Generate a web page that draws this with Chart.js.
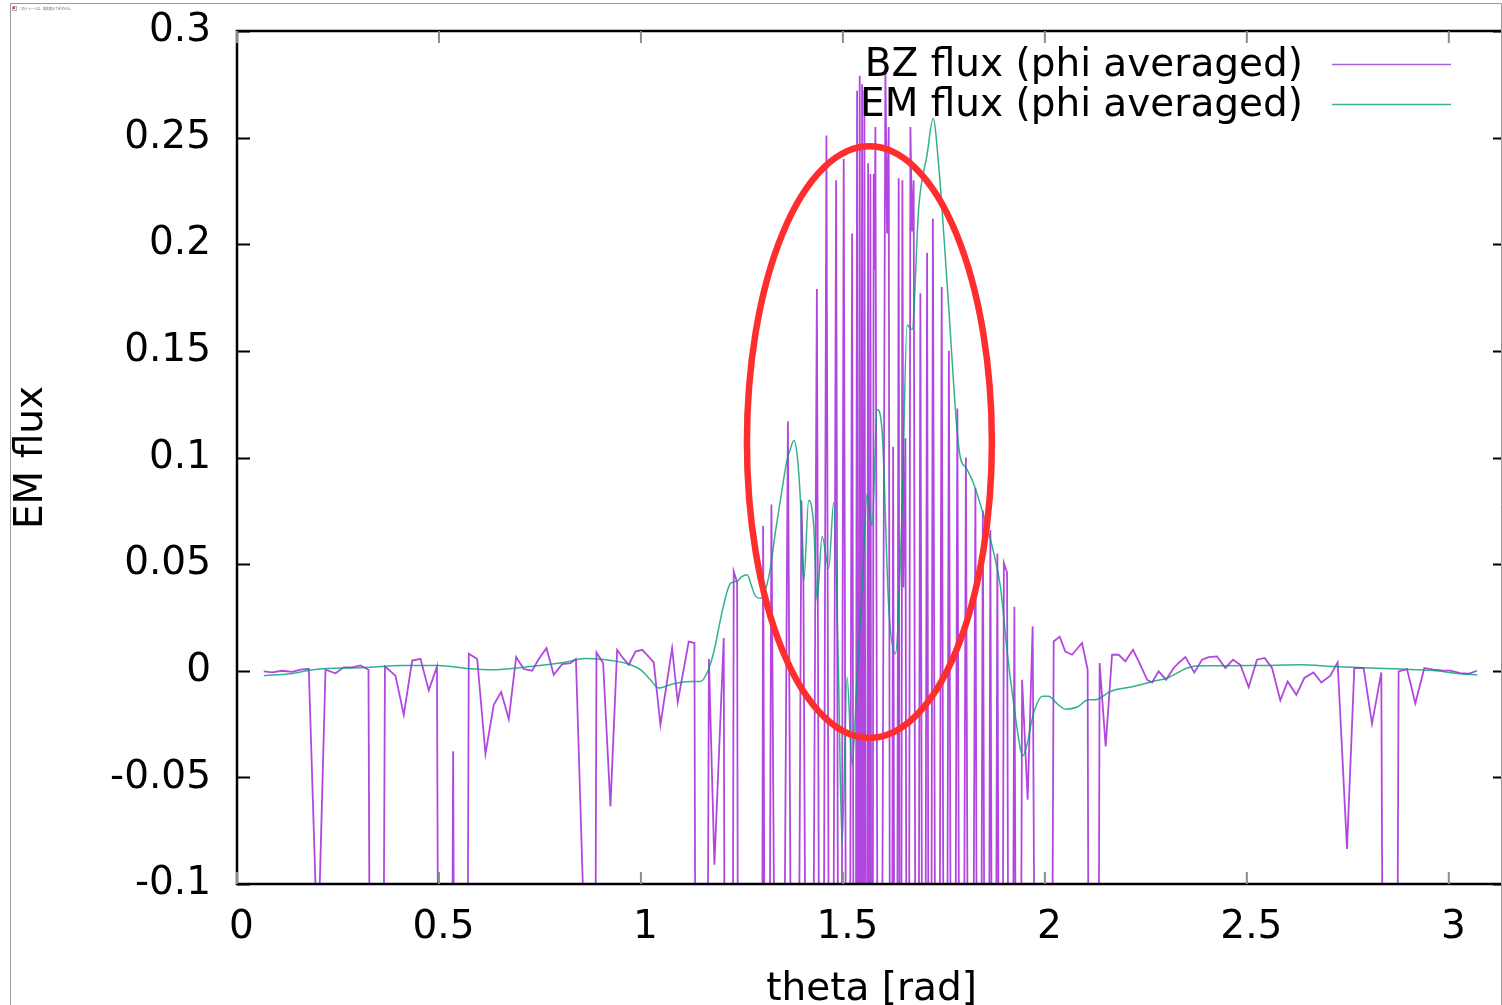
<!DOCTYPE html>
<html>
<head>
<meta charset="utf-8">
<script src="https://cdn.jsdelivr.net/npm/chart.js@4.4.1/dist/chart.umd.min.js"></script>
<style>
  html, body { margin: 0; padding: 0; background: #fff; overflow: hidden; }
  #box { position: absolute; left: 0; top: 0; }
</style>
</head>
<body>
<div id="box"><canvas id="c" width="1520" height="1005" style="width:1520px;height:1005px"></canvas></div>
<script>
// ---- data ----
// BZ flux (phi averaged): theta [rad] and value
var bzTheta = [
  0.0663, 0.0871, 0.1119, 0.1366, 0.1572, 0.1777, 0.2000, 0.2191, 0.2438, 0.2644,
  0.2851, 0.3057, 0.3255, 0.3441, 0.3663, 0.3923, 0.4129, 0.4337, 0.4542, 0.4748,
  0.4950, 0.5149, 0.5351, 0.5545, 0.5738, 0.5946, 0.6151, 0.6356, 0.6540, 0.6728,
  0.6911, 0.7099, 0.7307, 0.7470, 0.7661, 0.7842, 0.8050, 0.8255, 0.8391, 0.8577,
  0.8725, 0.8899, 0.9064, 0.9245, 0.9411, 0.9554, 0.9698, 0.9864, 1.0030, 1.0173,
  1.0317, 1.0483, 1.0772, 1.0911, 1.1183, 1.1324, 1.1473, 1.1683, 1.1819, 1.2050,
  1.2178, 1.2297, 1.2381, 1.2488,
  1.2958, 1.3025, 1.3119, 1.3230, 1.3428, 1.3639, 1.3812, 1.3973, 1.4022, 1.4171,
  1.4356, 1.4468, 1.4592, 1.4703, 1.4832, 1.4926, 1.5020, 1.5124, 1.5228, 1.5297,
  1.5351, 1.5384, 1.5416, 1.5446, 1.5475, 1.5507, 1.5532, 1.5582, 1.5624, 1.5656,
  1.5681, 1.5718, 1.5762, 1.5785, 1.5804, 1.5903, 1.6052, 1.6094, 1.6134, 1.6188,
  1.6243, 1.6312, 1.6381, 1.6423, 1.6473, 1.6498, 1.6547, 1.6609, 1.6671, 1.6713,
  1.6752, 1.6832, 1.6918, 1.7005, 1.7084, 1.7153, 1.7228, 1.7339, 1.7446, 1.7537,
  1.7624, 1.7723, 1.7834, 1.7933, 1.8045, 1.8156, 1.8280, 1.8366, 1.8465, 1.8564,
  1.8651, 1.8738, 1.8824, 1.8911, 1.8985, 1.9064, 1.9146, 1.9245, 1.9344, 1.9436,
  1.9574, 1.9698, 1.9988,
  2.0218, 2.0366, 2.0507, 2.0673, 2.0921, 2.1059, 2.1200, 2.1356, 2.1505, 2.1663,
  2.1827, 2.1993, 2.2183, 2.2364, 2.2530, 2.2653, 2.2817, 2.3000, 2.3188, 2.3329,
  2.3478, 2.3700, 2.3891, 2.4054, 2.4262, 2.4468, 2.4658, 2.4839, 2.5045, 2.5252,
  2.5441, 2.5624, 2.5829, 2.6010, 2.6225, 2.6423, 2.6653, 2.6844, 2.7067, 2.7248,
  2.7480, 2.7661, 2.7891, 2.8099, 2.8329, 2.8552, 2.8757, 2.8965, 2.9171, 2.9394,
  2.9624, 2.9827, 3.0037, 3.0285, 3.0490, 3.0698
];
var bzFlux = [
  -0.0003, -0.0008, 0.0000, -0.0005, 0.0005, 0.0009, -0.135, 0.0005, -0.0012, 0.0016,
  0.0016, 0.0025, 0.0005, -0.9, 0.0020, -0.0023, -0.0206, 0.0048, 0.0056, -0.0092,
  0.0020, -1.0, -0.0378, -1.0, 0.0080, 0.0055, -0.0390, -0.0160, -0.0100, -0.0227,
  0.0064, 0.0008, 0.0000, 0.0055, 0.0106, -0.0019, 0.0031, 0.0036, 0.0055, -0.11,
  -1.0, 0.0086, 0.0036, -0.0636, 0.0098, 0.0060, 0.0028, 0.0090, 0.0098, 0.0070,
  0.0039, -0.0253, 0.0106, -0.0147, 0.0137, 0.0130, -1.0, 0.0055, -0.0910, 0.0153,
  -1.0, 0.0466, 0.0414, -1.0,
  -0.6, 0.068, -0.5, 0.078, -0.5, 0.117, -0.5, 0.080, 0.042, -0.5,
  0.179, -0.5, 0.251, -0.5, 0.230, -0.5, 0.240, -0.5, 0.205, -0.5,
  0.272, -0.5, 0.279, -0.5, 0.275, -0.5, 0.272, -0.5, 0.238, -0.5,
  0.233, -0.5, 0.233, 0.188, 0.255, -0.5, 0.282, 0.205, 0.255, -0.5,
  0.105, -0.5, 0.231, -0.5, 0.230, 0.039, 0.109, -0.5, 0.255, 0.206,
  0.230, -0.5, 0.177, -0.5, 0.196, -0.5, 0.212, -0.5, 0.180, -0.5,
  0.150, -0.5, 0.123, -0.5, 0.100, -0.5, 0.0857, -0.5, 0.075, -0.5,
  0.066, -0.5, 0.055, -0.5, 0.0505, 0.046, -0.5, 0.030, -0.5, -0.0042,
  -0.0605, 0.0208, -1.0,
  0.0137, 0.0160, 0.0090, 0.0075, 0.0130, 0.0005, -1.0, 0.0036, -0.0355, 0.0075,
  0.0075, 0.0044, 0.0098, 0.0028, -0.0042, -0.0055, -0.0003, -0.0042, 0.0013, 0.0040,
  0.0064, -0.0008, 0.0052, 0.0064, 0.0067, 0.0013, 0.0052, 0.0028, -0.0077, 0.0052,
  0.0060, 0.0013, -0.0139, -0.0050, -0.0113, -0.0034, -0.0008, -0.0055, -0.0023, 0.0039,
  -0.0836, 0.0013, 0.0013, -0.0249, -0.0008, -1.0, -0.0003, 0.0008, -0.0152, 0.0013,
  0.0005, 0.0002, 0.0001, -0.0011, -0.0014, 0.0000
];

// EM flux (phi averaged)
var emTheta = [
  0.0663, 0.1324, 0.1894, 0.3131, 0.4121, 0.4963, 0.5780, 0.6275, 0.7265, 0.8082,
  0.8626, 0.9418, 0.9740, 0.9988, 1.0235, 1.0433, 1.0804, 1.1225, 1.1473, 1.1671,
  1.1819, 1.1968, 1.2116, 1.2215, 1.2381, 1.2488, 1.2629, 1.2735, 1.2834, 1.2958,
  1.3057, 1.3205, 1.3329, 1.3453, 1.3619, 1.3700, 1.3782, 1.3874, 1.3948, 1.4030,
  1.4153, 1.4277, 1.4361, 1.4485, 1.4649, 1.4772, 1.4889, 1.4980, 1.5104, 1.5228,
  1.5359, 1.5475, 1.5599, 1.5723, 1.5847, 1.5970, 1.6134, 1.6300, 1.6465, 1.6589,
  1.6713, 1.6876, 1.7084, 1.7233, 1.7371, 1.7579, 1.7827, 1.7908, 1.8057, 1.8238,
  1.8485, 1.8733, 1.8899, 1.9072, 1.9245, 1.9394, 1.9450, 1.9567, 1.9691, 1.9814,
  1.9938, 2.0087, 2.0334, 2.0507, 2.0804, 2.1077, 2.1250, 2.1621, 2.2191, 2.2686,
  2.3032, 2.3527, 2.3849, 2.5507, 2.6324, 2.7141, 2.8800, 2.9616, 3.0285, 3.0705
];
var emFlux = [
  -0.0023, -0.0014, 0.0005, 0.0015, 0.0025, 0.0025, 0.0009, 0.0005, 0.0020, 0.0039,
  0.0058, 0.0044, 0.0028, 0.0005, -0.0042, -0.0081, -0.0061, -0.0050, -0.0050, 0.0005,
  0.0100, 0.0240, 0.0360, 0.0410, 0.0420, 0.0440, 0.0450, 0.0400, 0.0350, 0.0340,
  0.0365, 0.0480, 0.0650, 0.0800, 0.0990, 0.1040, 0.1080, 0.1000, 0.0800, 0.0420,
  0.0800, 0.0680, 0.0330, 0.0630, 0.0480, 0.0790, 0.0000, -0.0810, -0.0030, -0.0440,
  0.0000, 0.0380, 0.0830, 0.0680, 0.1225, 0.1125, 0.0300, 0.0080, 0.0750, 0.1620,
  0.1600, 0.2170, 0.2420, 0.2590, 0.2370, 0.1820, 0.1125, 0.1000, 0.0950, 0.0877,
  0.0728, 0.0554, 0.0395, 0.0080, -0.0180, -0.0366, -0.0400, -0.0340, -0.0220, -0.0150,
  -0.0120, -0.0120, -0.0160, -0.0180, -0.0170, -0.0136, -0.0136, -0.0097, -0.0074, -0.0050,
  -0.0034, 0.0013, 0.0023, 0.0025, 0.0028, 0.0020, 0.0008, 0.0001, -0.0014, -0.0019
];

var seriesNames = ['BZ flux (phi averaged)', 'EM flux (phi averaged)'];
var xTicks = [0, 0.5, 1, 1.5, 2, 2.5, 3];
var xTickLabels = ['0', '0.5', '1', '1.5', '2', '2.5', '3'];
var yTicks = [-0.1, -0.05, 0, 0.05, 0.1, 0.15, 0.2, 0.25, 0.3];
var yTickLabels = ['-0.1', '-0.05', '0', '0.05', '0.1', '0.15', '0.2', '0.25', '0.3'];
var xMax = 3.1416;

// red ring drawn on the picture (centre and half axes, in data units)
var ringCenter = [1.5656, 0.1072];
var ringRadius = [0.3032, 0.1387];

var PURPLE = 'rgba(148, 0, 211, 0.72)';
var GREEN = 'rgba(0, 158, 115, 0.8)';
var KEY_PURPLE = '#a860d8';
var KEY_GREEN = '#40b090';
var FONT = 'DejaVu Sans';

Chart.defaults.font.family = FONT;
Chart.defaults.color = '#000';

// frame, mirrored ticks, key and the red ring
var decor = {
  id: 'decor',
  afterDatasetsDraw: function(chart) {
    var ctx = chart.ctx, a = chart.chartArea, xs = chart.scales.x, ys = chart.scales.y;
    ctx.save();

    // border
    ctx.strokeStyle = '#000';
    ctx.lineWidth = 2.5;
    ctx.strokeRect(a.left, a.top, a.right - a.left, a.bottom - a.top);

    // y ticks (left + right, inward)
    ctx.lineWidth = 2;
    yTicks.forEach(function(v) {
      var py = Math.round(ys.getPixelForValue(v)) + 0.5;
      ctx.beginPath();
      ctx.moveTo(a.left, py); ctx.lineTo(a.left + 13, py);
      ctx.moveTo(a.right, py); ctx.lineTo(a.right - 13, py);
      ctx.stroke();
    });
    // x ticks (bottom + top, inward)
    ctx.strokeStyle = '#8c8c8c';
    xTicks.forEach(function(v) {
      var px = xs.getPixelForValue(v);
      ctx.beginPath();
      ctx.moveTo(px, a.bottom); ctx.lineTo(px, a.bottom - 12);
      ctx.moveTo(px, a.top); ctx.lineTo(px, a.top + 12);
      ctx.stroke();
    });

    // key
    ctx.font = '39px "' + FONT + '"';
    ctx.fillStyle = '#000';
    ctx.textAlign = 'right';
    ctx.textBaseline = 'middle';
    var keyCol = [KEY_PURPLE, KEY_GREEN];
    seriesNames.forEach(function(name, i) {
      var ky = 64.5 + i * 40;
      ctx.fillText(name, 1303, ky + 1.5);
      ctx.strokeStyle = keyCol[i];
      ctx.lineWidth = 1.6;
      ctx.beginPath();
      ctx.moveTo(1332, ky); ctx.lineTo(1451, ky);
      ctx.stroke();
    });

    // red ring
    var cx = xs.getPixelForValue(ringCenter[0]);
    var cy = ys.getPixelForValue(ringCenter[1]);
    var rx = xs.getPixelForValue(ringCenter[0] + ringRadius[0]) - cx;
    var ry = cy - ys.getPixelForValue(ringCenter[1] + ringRadius[1]);
    ctx.strokeStyle = '#ff2e2e';
    ctx.lineWidth = 6.5;
    ctx.beginPath();
    ctx.ellipse(cx, cy, rx, ry, 0, 0, Math.PI * 2);
    ctx.stroke();
    ctx.restore();
  },
  afterDraw: function(chart) {
    // viewer frame around the picture
    var ctx = chart.ctx;
    ctx.save();
    ctx.strokeStyle = '#9a9a9a';
    ctx.lineWidth = 1;
    ctx.beginPath();
    ctx.moveTo(10.5, 1005); ctx.lineTo(10.5, 3.5); ctx.lineTo(1501.5, 3.5); ctx.lineTo(1501.5, 1005);
    ctx.stroke();
    ctx.fillStyle = '#fff';
    ctx.fillRect(1502, 0, 30, 1005);
    // broken-image icon + note
    ctx.strokeStyle = '#b0b0b0';
    ctx.strokeRect(12.5, 6.5, 4, 4);
    ctx.fillStyle = '#e03030';
    ctx.fillRect(13, 7, 2, 2);
    ctx.fillStyle = '#555';
    ctx.font = '3px "Noto Sans CJK JP"';
    ctx.textAlign = 'left';
    ctx.textBaseline = 'middle';
    ctx.fillText('このイメージは、現在表示できません。', 19, 8.5);
    ctx.restore();
  }
};

function xy(t, v) {
  return t.map(function(tt, i) { return {x: tt, y: v[i]}; });
}

var ctx = document.getElementById('c').getContext('2d');
var myChart = new Chart(ctx, {
  type: 'line',
  data: {
    datasets: [
      {
        label: seriesNames[0],
        data: xy(bzTheta, bzFlux),
        borderColor: PURPLE,
        borderWidth: 1.8,
        pointRadius: 0,
        tension: 0,
        order: 2
      },
      {
        label: seriesNames[1],
        data: xy(emTheta, emFlux),
        borderColor: GREEN,
        borderWidth: 1.5,
        pointRadius: 0,
        cubicInterpolationMode: 'monotone',
        order: 1
      }
    ]
  },
  options: {
    responsive: false,
    animation: false,
    events: [],
    layout: { padding: { top: 31, right: 14, left: 0, bottom: 0 }, autoPadding: false },
    plugins: { legend: { display: false }, tooltip: { enabled: false } },
    scales: {
      x: {
        type: 'linear',
        min: 0,
        max: xMax,
        afterBuildTicks: function(s) { s.ticks = xTicks.map(function(v) { return {value: v}; }); },
        afterFit: function(s) { s.height = 121; s.paddingLeft = 0; s.paddingRight = 0; },
        grid: { display: false, drawTicks: false },
        border: { display: false },
        ticks: {
          font: { size: 39 }, color: '#000', padding: 20, labelOffset: 4.5,
          maxRotation: 0, autoSkip: false,
          callback: function(v, i) { return xTickLabels[i]; }
        },
        title: { display: true, text: 'theta [rad]', color: '#000', font: { size: 39, lineHeight: 0.8 }, padding: 0 }
      },
      y: {
        type: 'linear',
        min: -0.1,
        max: 0.3,
        afterBuildTicks: function(s) { s.ticks = yTicks.map(function(v) { return {value: v}; }); },
        afterFit: function(s) { s.width = 237; s.paddingTop = 0; s.paddingBottom = 0; },
        grid: { display: false, drawTicks: false },
        border: { display: false },
        ticks: {
          font: { size: 39 }, color: '#000', padding: 26, autoSkip: false,
          callback: function(v, i) { return yTickLabels[i]; }
        },
        title: { display: true, text: 'EM flux', color: '#000', font: { size: 39 }, padding: { top: 8, bottom: 0 } }
      }
    }
  },
  plugins: [decor]
});
</script>
</body>
</html>
